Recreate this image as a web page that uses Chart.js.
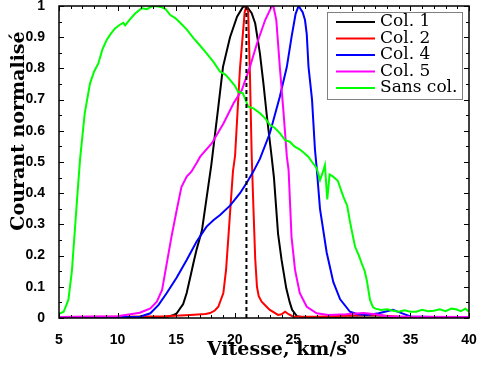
<!DOCTYPE html>
<html>
<head>
<meta charset="utf-8">
<script src="https://cdn.jsdelivr.net/npm/chart.js@4/dist/chart.umd.min.js"></script>
<style>
  html, body { margin: 0; padding: 0; background: #fff; }
  canvas { display: block; }
</style>
</head>
<body>
<canvas id="chart" width="479" height="365"></canvas>
<script>
// vitesse (km/s) / courant normalise
const col1V = [5, 10, 13, 14.3, 14.8, 15.05, 15.6, 15.9, 16.2, 16.5, 16.75, 17.2, 17.6, 18.0, 18.6, 19.0, 19.6, 20.2, 20.7, 21.0, 21.45, 21.75, 22.15, 22.45, 22.75, 23.15, 23.35, 23.7, 24.0, 24.4, 24.7, 24.9, 25.3, 26, 30, 35, 40]
const col1I = [0.002, 0.002, 0.002, 0.004, 0.01, 0.015, 0.045, 0.08, 0.13, 0.18, 0.22, 0.28, 0.385, 0.49, 0.677, 0.805, 0.90, 0.966, 0.997, 1.0, 0.977, 0.944, 0.848, 0.752, 0.645, 0.517, 0.45, 0.27, 0.186, 0.095, 0.05, 0.026, 0.006, 0.002, 0.002, 0.002, 0.002]

const col2V = [5, 10, 14, 16.2, 17.5, 17.9, 18.3, 18.6, 19.03, 19.26, 19.46, 19.66, 19.85, 20.03, 20.45, 20.85, 21.0, 21.15, 21.3, 21.45, 21.6, 21.75, 21.9, 22.05, 22.3, 22.7, 23.0, 23.7, 24.0, 24.3, 24.6, 25.0, 27, 30, 32, 34, 40]
const col2I = [0.003, 0.004, 0.006, 0.01, 0.013, 0.016, 0.024, 0.036, 0.08, 0.154, 0.26, 0.368, 0.47, 0.52, 0.8, 0.98, 1.0, 0.98, 0.78, 0.52, 0.35, 0.19, 0.1, 0.07, 0.052, 0.037, 0.026, 0.01, 0.012, 0.02, 0.012, 0.004, 0.004, 0.008, 0.01, 0.004, 0.003]

const col4V = [5, 10, 11.9, 12.8, 13.5, 14.2, 15.05, 15.9, 16.75, 17.6, 18.2, 18.75, 19.6, 20.45, 21.0, 21.6, 22.15, 23.0, 23.85, 24.45, 24.85, 25.2, 25.45, 25.8, 26.0, 26.15, 26.3, 26.6, 26.85, 27.0, 27.28, 27.85, 28.42, 29.0, 29.84, 30.5, 31.3, 32.3, 33.5, 34.3, 35, 37, 40]
const col4I = [0.003, 0.003, 0.004, 0.015, 0.042, 0.08, 0.13, 0.186, 0.245, 0.293, 0.314, 0.33, 0.36, 0.40, 0.432, 0.47, 0.51, 0.592, 0.709, 0.805, 0.90, 0.975, 1.0, 0.98, 0.955, 0.91, 0.805, 0.70, 0.54, 0.48, 0.35, 0.21, 0.115, 0.06, 0.02, 0.012, 0.01, 0.015, 0.026, 0.015, 0.005, 0.003, 0.003]

const col5V = [5, 10, 11.9, 12.8, 13.35, 13.8, 14.2, 14.6, 15.05, 15.45, 15.9, 16.3, 16.75, 17.05, 18.05, 19.05, 19.9, 20.6, 21.3, 21.9, 22.6, 23.15, 23.3, 23.55, 23.85, 24.15, 24.45, 24.6, 24.85, 25.15, 25.55, 26.15, 27.0, 28, 29.5, 31, 32, 33, 35, 40]
const col5I = [0.003, 0.006, 0.017, 0.031, 0.052, 0.09, 0.175, 0.26, 0.346, 0.42, 0.453, 0.469, 0.497, 0.517, 0.56, 0.624, 0.688, 0.73, 0.805, 0.88, 0.955, 0.998, 1.0, 0.955, 0.805, 0.667, 0.517, 0.474, 0.26, 0.154, 0.08, 0.036, 0.015, 0.01, 0.012, 0.016, 0.012, 0.006, 0.004, 0.003]

const sansV = [5, 5.4, 5.8, 6.1, 6.37, 6.6, 6.8, 7.2, 7.65, 8.0, 8.36, 8.7, 9.07, 9.4, 9.78, 10.2, 10.49, 10.65, 11.0, 11.5, 12.06, 12.5, 12.9, 13.3, 13.77, 14.1, 14.5, 14.9, 15.3, 15.9, 16.46, 17.0, 17.6, 18.2, 18.74, 19.2, 19.6, 20.0, 20.3, 20.7, 21.16, 21.6, 22.16, 22.6, 23.0, 23.4, 23.87, 24.3, 24.7, 25.1, 25.57, 25.9, 26.28, 26.6, 27.0, 27.28, 27.5, 27.7, 27.9, 28.1, 28.4, 28.8, 29.27, 29.6, 29.84, 30.1, 30.27, 30.6, 30.84, 31.1, 31.27, 31.55, 31.8, 32.0, 32.5, 33.0, 33.54, 34, 34.5, 35.0, 35.5, 36, 36.5, 37, 37.5, 38, 38.5, 38.9, 39.3, 39.7, 40]
const sansI = [0.013, 0.02, 0.058, 0.15, 0.29, 0.41, 0.51, 0.657, 0.752, 0.79, 0.816, 0.86, 0.891, 0.91, 0.928, 0.94, 0.946, 0.938, 0.955, 0.976, 0.993, 0.99, 0.998, 1.0, 0.996, 0.99, 0.971, 0.962, 0.948, 0.925, 0.898, 0.875, 0.848, 0.82, 0.79, 0.78, 0.763, 0.745, 0.725, 0.72, 0.677, 0.672, 0.656, 0.64, 0.619, 0.61, 0.592, 0.57, 0.565, 0.55, 0.54, 0.53, 0.517, 0.5, 0.48, 0.442, 0.465, 0.49, 0.38, 0.46, 0.453, 0.44, 0.389, 0.36, 0.309, 0.26, 0.229, 0.2, 0.175, 0.15, 0.122, 0.058, 0.035, 0.03, 0.026, 0.028, 0.023, 0.02, 0.025, 0.02, 0.02, 0.026, 0.022, 0.023, 0.028, 0.022, 0.03, 0.028, 0.022, 0.03, 0.02]

const seriesNames = ['Col. 1', 'Col. 2', 'Col. 4', 'Col. 5', 'Sans col.']
const seriesColors = ['#000000', '#ff0000', '#0000ff', '#ff00ff', '#00ff00']
const markerV = 21
const xTitle = 'Vitesse, km/s'
const yTitle = 'Courant normalisé'

function pts(vs, is) {
    return vs.map((v, i) => ({ x: v, y: is[i] }))
}

const seriesData = [pts(col1V, col1I), pts(col2V, col2I), pts(col4V, col4I), pts(col5V, col5I), pts(sansV, sansI)]

const datasets = seriesNames.map((name, i) => ({
    label: name,
    data: seriesData[i],
    borderColor: seriesColors[i],
    borderWidth: 2,
    pointRadius: 0,
    tension: 0,
    fill: false,
    order: 5 - i  // later series drawn on top, like the original
}))

datasets.push({
    label: '',
    data: [{ x: markerV, y: 0 }, { x: markerV, y: 1 }],
    borderColor: '#000000',
    borderWidth: 2,
    borderDash: [4, 3],
    pointRadius: 0,
    order: -1
})

// box, inward ticks, titles and boxed legend
const frame = {
    id: 'frame',
    afterDatasetsDraw(chart) {
        const { ctx, chartArea: a } = chart
        const xs = chart.scales.x, ys = chart.scales.y
        ctx.save()
        ctx.strokeStyle = '#000'
        ctx.lineWidth = 1
        for (let v = 5; v <= 40; v++) {
            const p = Math.round(xs.getPixelForValue(v)) + 0.5
            const len = v % 5 === 0 ? 5 : 3
            ctx.beginPath()
            ctx.moveTo(p, a.bottom); ctx.lineTo(p, a.bottom - len)
            ctx.moveTo(p, a.top); ctx.lineTo(p, a.top + len)
            ctx.stroke()
        }
        for (let k = 0; k <= 20; k++) {
            const p = Math.round(ys.getPixelForValue(k * 0.05)) + 0.5
            const len = k % 2 === 0 ? 5 : 3
            ctx.beginPath()
            ctx.moveTo(a.left, p); ctx.lineTo(a.left + len, p)
            ctx.moveTo(a.right, p); ctx.lineTo(a.right - len, p)
            ctx.stroke()
        }
        ctx.lineWidth = 1.5
        ctx.strokeRect(a.left, a.top, a.right - a.left, a.bottom - a.top)

        // legend
        const lx = 327.5, ly = 12.5, lw = 135, lh = 87
        ctx.fillStyle = '#fff'
        ctx.fillRect(lx, ly, lw, lh)
        ctx.strokeStyle = '#808080'
        ctx.lineWidth = 1
        ctx.strokeRect(lx, ly, lw, lh)
        ctx.font = '17px "DejaVu Serif"'
        ctx.textBaseline = 'middle'
        ctx.textAlign = 'left'
        chart.data.datasets.forEach((ds, i) => {
            if (!ds.label) return
            const y = 22 + i * 16.5
            ctx.strokeStyle = ds.borderColor
            ctx.lineWidth = 2
            ctx.beginPath()
            ctx.moveTo(336, y); ctx.lineTo(375, y)
            ctx.stroke()
            ctx.fillStyle = '#000'
            ctx.fillText(ds.label, 380, y)
        })
        ctx.restore()
    },
    afterDraw(chart) {
        const { ctx } = chart
        ctx.save()
        ctx.fillStyle = '#000'
        ctx.font = 'bold 19px "DejaVu Serif"'
        ctx.textAlign = 'center'
        ctx.textBaseline = 'alphabetic'
        ctx.fillText(xTitle, 277, 355)
        ctx.translate(24, 131)
        ctx.rotate(-Math.PI / 2)
        ctx.fillText(yTitle, 0, 0)
        ctx.restore()
    }
}

const tickFont = { family: '"Liberation Sans", Arial, sans-serif', size: 14, weight: 'bold' }

new Chart(document.getElementById('chart'), {
    type: 'line',
    data: { datasets: datasets },
    options: {
        responsive: false,
        animation: false,
        devicePixelRatio: 1,
        layout: { padding: { top: 6, right: 10, left: 0, bottom: 0 } },
        plugins: {
            legend: { display: false },
            tooltip: { enabled: false }
        },
        scales: {
            x: {
                type: 'linear',
                min: 5,
                max: 40,
                grid: { display: false },
                border: { display: false },
                ticks: { stepSize: 5, color: '#000', font: tickFont, padding: 6, maxRotation: 0 },
                afterFit(s) { s.height = 47; s.paddingLeft = 0; s.paddingRight = 0 }
            },
            y: {
                min: 0,
                max: 1,
                grid: { display: false },
                border: { display: false },
                ticks: {
                    stepSize: 0.1, color: '#000', font: tickFont, padding: 6,
                    callback: (v) => String(Math.round(v * 10) / 10)
                },
                afterFit(s) { s.width = 59; s.paddingTop = 0; s.paddingBottom = 0 }
            }
        }
    },
    plugins: [frame]
})
</script>
</body>
</html>
